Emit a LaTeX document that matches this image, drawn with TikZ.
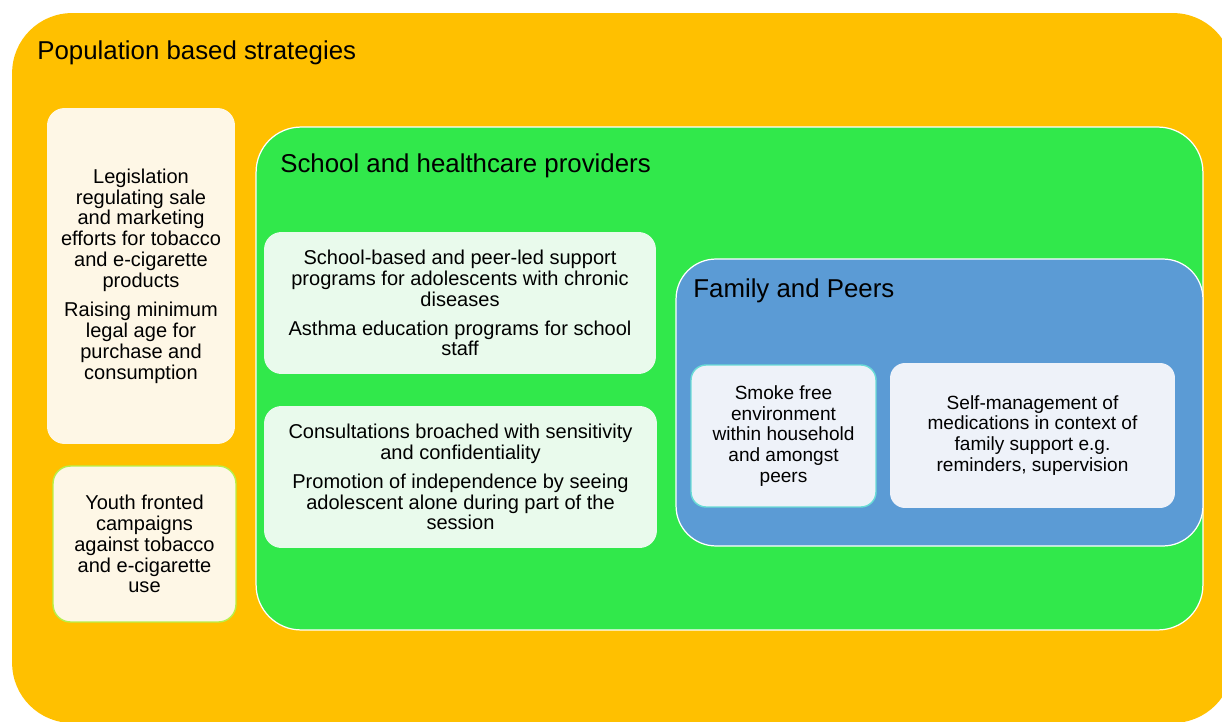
\documentclass[tikz,border=0pt]{standalone}
\usepackage{fontspec}
\setmainfont{Liberation Sans}
\usepackage{tikz}
\usetikzlibrary{shapes}
\definecolor{orng}{HTML}{FFC000}
\definecolor{grn}{HTML}{31E84B}
\definecolor{blu}{HTML}{5B9BD5}
\definecolor{cream}{HTML}{FEF7E6}
\definecolor{lgrn}{HTML}{E9FAEC}
\definecolor{lblu}{HTML}{EEF2F9}
\definecolor{ygrn}{HTML}{B8F04A}
\definecolor{cyn}{HTML}{6ADCD6}
\tikzstyle{popbox}=[rectangle,fill=orng,draw=none,rounded corners=1.2cm,inner sep=0pt]
\tikzstyle{ring}=[rectangle,draw=white,line width=0.7pt,inner sep=0pt]
\tikzstyle{entry}=[rectangle,align=center,inner sep=0pt,rounded corners=0.35cm,font=\fontsize{11.4}{11.9}\selectfont]
\tikzstyle{small}=[font=\fontsize{10.85}{11.9}\selectfont]
\tikzstyle{heading}=[anchor=base west,inner sep=0pt,font=\fontsize{14.7}{17}\selectfont]

\begin{document}
\begin{tikzpicture}[x=0.02cm,y=-0.02cm]
	\useasboundingbox (0,0) rectangle (1222,722);
	% outer level
	\node [style=popbox, minimum width=24.42cm, minimum height=14.2cm] (pop) at (622.5, 368) {};
	\node [style=heading] (poptitle) at (37, 60) {Population based strategies};
	\node [style=entry, fill=cream, minimum width=3.76cm, minimum height=6.72cm] (legis) at (141, 276)
		{Legislation\\ regulating sale\\ and marketing\\ efforts for tobacco\\ and e-cigarette\\ products\\[4.5pt]
		 Raising minimum\\ legal age for\\ purchase and\\ consumption};
	\node [style=entry, fill=cream, draw=ygrn, line width=0.8pt, minimum width=3.66cm, minimum height=3.12cm] (youth) at (144.5, 544)
		{Youth fronted\\ campaigns\\ against tobacco\\ and e-cigarette\\ use};
	% school level
	\node [style=ring, fill=grn, rounded corners=0.9cm, minimum width=18.94cm, minimum height=10.06cm] (school) at (729.5, 378.5) {};
	\node [style=heading] (schooltitle) at (280, 173) {School and healthcare providers};
	\node [style=entry, fill=lgrn, minimum width=7.84cm, minimum height=2.84cm] (peer) at (460, 303)
		{School-based and peer-led support\\ programs for adolescents with chronic\\ diseases\\[4.5pt]
		 Asthma education programs for school\\ staff};
	\node [style=entry, fill=lgrn, minimum width=7.86cm, minimum height=2.84cm] (consult) at (460.5, 477)
		{Consultations broached with sensitivity\\ and confidentiality\\[4.5pt]
		 Promotion of independence by seeing\\ adolescent alone during part of the\\ session};
	% family level
	\node [style=ring, fill=blu, rounded corners=0.8cm, minimum width=10.54cm, minimum height=5.74cm] (family) at (939.5, 402.5) {};
	\node [style=heading] (familytitle) at (693, 298) {Family and Peers};
	\node [style=entry, style=small, fill=lblu, draw=cyn, line width=0.8pt, rounded corners=0.3cm, minimum width=3.7cm, minimum height=2.84cm] (smoke) at (783.5, 436)
		{Smoke free\\ environment\\ within household\\ and amongst\\ peers};
	\node [style=entry, style=small, fill=lblu, rounded corners=0.3cm, minimum width=5.7cm, minimum height=2.9cm] (selfmgmt) at (1032.5, 435.5)
		{Self-management of\\ medications in context of\\ family support e.g.\\ reminders, supervision};
\end{tikzpicture}
\end{document}
